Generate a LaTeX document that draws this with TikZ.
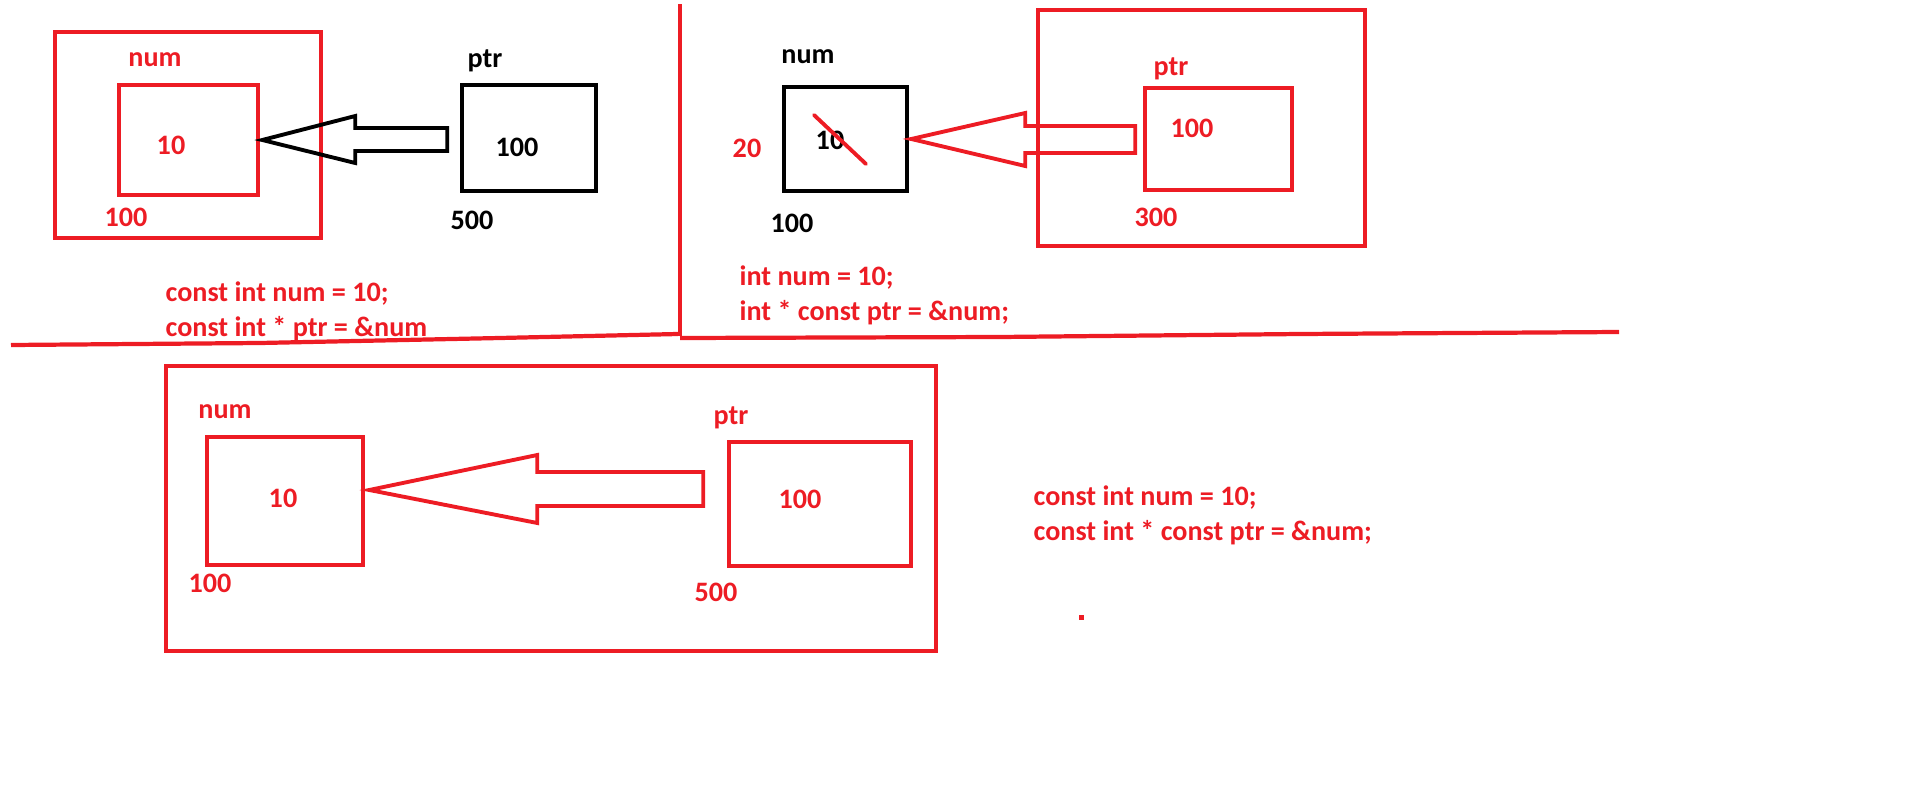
\documentclass[tikz,border=0pt]{standalone}
\usepackage{fontspec}
\setmainfont{Carlito}
\definecolor{paintred}{HTML}{ED1C24}

\begin{document}
\begin{tikzpicture}[x=0.01cm, y=-0.01cm,
    font=\fontsize{8pt}{9.96pt}\selectfont\bfseries,
    cell/.style={draw, line width=1.25pt, inner sep=0pt},
    lbl/.style={inner sep=0pt},
    code/.style={inner sep=0pt, anchor=west, align=left, text=paintred},
    blockarrow/.style={line width=1.1pt, line join=miter}]
  \useasboundingbox (0,0) rectangle (1914,809);

  % dividing lines
  \draw[paintred, line width=1.2pt] (11,345) -- (260,343) -- (500,338) -- (678,334);
  \draw[paintred, line width=1.2pt] (680,338) -- (1000,337) -- (1300,334) -- (1619,332);
  \draw[paintred, line width=1.2pt] (680,4) -- (680,336);

  % const int num, const int * ptr
  \node[cell, paintred, minimum width=2.66cm, minimum height=2.06cm] (outerL) at (188,135) {};
  \node[cell, paintred, minimum width=1.39cm, minimum height=1.10cm] (numL) at (188.5,140) {};
  \node[cell, minimum width=1.34cm, minimum height=1.06cm] (ptrL) at (529,138) {};
  \node[lbl, text=paintred] (numLname) at (155,60) {num};
  \node[lbl, text=paintred] (numLval) at (171,145) {10};
  \node[lbl, text=paintred] (numLaddr) at (126,217) {100};
  \node[lbl] (ptrLname) at (485,61) {ptr};
  \node[lbl] (ptrLval) at (517,147) {100};
  \node[lbl] (ptrLaddr) at (472,220) {500};
  \coordinate (tipL) at (numL.east);
  \draw[blockarrow] ([xshift=0.02cm]tipL) -- ++(93,-24) -- ++(0,12) -- ++(92,0) -- ++(0,23)
    -- ++(-92,0) -- ++(0,12) -- cycle;
  \node[code] (codeL) at (165,311) {const int num = 10;\\const int * ptr = \&num};

  % int num, int * const ptr
  \node[cell, minimum width=1.23cm, minimum height=1.04cm] (numR) at (845.5,139) {};
  \node[cell, paintred, minimum width=3.27cm, minimum height=2.36cm] (outerR) at (1201.5,128) {};
  \node[cell, paintred, minimum width=1.47cm, minimum height=1.02cm] (ptrR) at (1218.5,139) {};
  \node[lbl] (numRname) at (808,57) {num};
  \node[lbl, text=paintred] (numRnew) at (747,148) {20};
  \node[lbl] (numRval) at (830,140) {10};
  \node[lbl] (numRaddr) at (792,223) {100};
  \draw[paintred, line width=1.1pt, line cap=round] (814,115) -- (866,164);
  \node[lbl, text=paintred] (ptrRname) at (1171,69) {ptr};
  \node[lbl, text=paintred] (ptrRval) at (1192,128) {100};
  \node[lbl, text=paintred] (ptrRaddr) at (1156,217) {300};
  \coordinate (tipR) at (numR.east);
  \draw[blockarrow, paintred] ([xshift=0.02cm]tipR) -- ++(114,-26) -- ++(0,13) -- ++(110,0) -- ++(0,27)
    -- ++(-110,0) -- ++(0,13) -- cycle;
  \node[code] (codeR) at (739,295) {int num = 10;\\int * const ptr = \&num;};

  % const int num, const int * const ptr
  \node[cell, paintred, minimum width=7.70cm, minimum height=2.85cm] (outerB) at (551,508.5) {};
  \node[cell, paintred, minimum width=1.56cm, minimum height=1.28cm] (numB) at (285,501) {};
  \node[cell, paintred, minimum width=1.82cm, minimum height=1.24cm] (ptrB) at (820,504) {};
  \node[lbl, text=paintred] (numBname) at (225,412) {num};
  \node[lbl, text=paintred] (numBval) at (283,498) {10};
  \node[lbl, text=paintred] (numBaddr) at (210,583) {100};
  \node[lbl, text=paintred] (ptrBname) at (731,418) {ptr};
  \node[lbl, text=paintred] (ptrBval) at (800,499) {100};
  \node[lbl, text=paintred] (ptrBaddr) at (716,592) {500};
  \coordinate (tipB) at ([yshift=0.11cm]numB.east);
  \draw[blockarrow, paintred] ([xshift=0.04cm]tipB) -- ++(168,-35) -- ++(0,17) -- ++(166,0) -- ++(0,34)
    -- ++(-166,0) -- ++(0,17) -- cycle;
  \node[code] (codeB) at (1033,515) {const int num = 10;\\const int * const ptr = \&num;};
  \fill[paintred] (1078.5,614.5) rectangle ++(5,5);
\end{tikzpicture}
\end{document}
